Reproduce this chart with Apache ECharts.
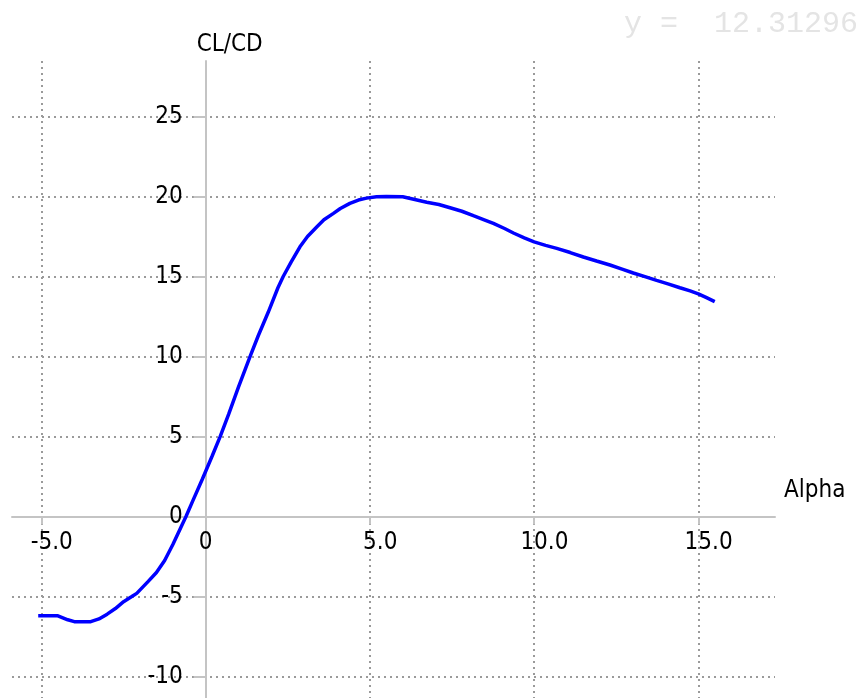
<!DOCTYPE html>
<html>
<head>
<meta charset="utf-8">
<title>CL/CD vs Alpha</title>
<script src="https://cdn.jsdelivr.net/npm/echarts@6/dist/echarts.min.js"></script>
<style>
  html, body { margin: 0; padding: 0; background: #ffffff; }
  #chart { width: 860px; height: 698px; }
</style>
</head>
<body>
<div id="chart"></div>
<script>
// Angle of attack (deg) and lift-to-drag ratio
const alpha = [
  -5.1, -4.5, -4.2, -4.0, -3.5, -3.25, -3.0, -2.75, -2.5, -2.25, -2.1,
  -1.75, -1.5, -1.25, -1.0, -0.75, -0.6, -0.4, -0.1, 0.2, 0.44, 0.7,
  1.0, 1.35, 1.6, 1.9, 2.2, 2.36, 2.6, 2.87, 3.1, 3.38, 3.6, 3.89,
  4.1, 4.39, 4.65, 4.9, 5.2, 5.5, 6.0, 6.3, 6.73, 7.1, 7.44, 7.8,
  8.15, 8.5, 8.76, 9.1, 9.37, 9.7, 10.0, 10.35, 10.69, 11.1, 11.5,
  11.9, 12.31, 12.7, 13.02, 13.4, 13.73, 14.1, 14.44, 14.75, 15.0,
  15.25, 15.5
];
const clcd = [
  -6.2, -6.2, -6.45, -6.57, -6.57, -6.4, -6.1, -5.75, -5.32, -5.0, -4.8,
  -4.05, -3.5, -2.75, -1.75, -0.65, 0.0, 0.95, 2.35, 3.8, 5.0, 6.4,
  8.1, 10.0, 11.3, 12.75, 14.3, 15.0, 15.9, 16.86, 17.5, 18.1, 18.55, 18.95,
  19.25, 19.57, 19.78, 19.9, 19.98, 20.0, 19.99, 19.85, 19.64, 19.5, 19.3, 19.08,
  18.8, 18.53, 18.32, 18.0, 17.72, 17.42, 17.17, 16.95, 16.76, 16.5, 16.22,
  15.97, 15.72, 15.45, 15.22, 14.98, 14.76, 14.53, 14.3, 14.1, 13.92,
  13.68, 13.43
];

// Tick positions for both axes
const xTicks = [-5, 0, 5, 10, 15];
const yTicks = [-10, -5, 0, 5, 10, 15, 20, 25];

// Cursor readout shown in the corner
const readoutText = 'y =  12.31296';

const uiFont = "'DejaVu Sans Condensed', 'DejaVu Sans', sans-serif";
const axisGrey = '#c4c4c4';

// Plot area and value ranges
const plot = { left: 12, right: 85, top: 61, bottom: 0, width: 860, height: 698 };
const xRange = [-5.898, 17.335];
const yRange = [-11.34, 28.47];

// Pull each axis in from the plot edge so it crosses the other at zero
const plotW = plot.width - plot.left - plot.right;
const plotH = plot.height - plot.top - plot.bottom;
const yAxisShift = plotW * (0 - xRange[0]) / (xRange[1] - xRange[0]);
const xAxisShift = plotH * (0 - yRange[0]) / (yRange[1] - yRange[0]);

const points = alpha.map((a, i) => [a, clcd[i]]);

const chart = echarts.init(document.getElementById('chart'), null, { renderer: 'canvas' });

const gridLine = { show: true, lineStyle: { color: '#9a9a9a', width: 2, type: [2, 4] } };

chart.setOption({
  animation: false,
  backgroundColor: '#ffffff',
  grid: {
    left: plot.left, right: plot.right, top: plot.top, bottom: plot.bottom,
    containLabel: false,
    outerBoundsMode: 'none'
  },
  graphic: [{
    type: 'text',
    left: 624,
    top: 9,
    style: {
      text: readoutText,
      font: "30px 'Liberation Mono', 'DejaVu Sans Mono', monospace",
      fill: '#e4e4e4'
    }
  }],
  xAxis: {
    type: 'value',
    min: xRange[0],
    max: xRange[1],
    position: 'bottom',
    offset: -xAxisShift,
    name: 'Alpha',
    nameLocation: 'end',
    nameGap: 9,
    nameTextStyle: {
      color: '#000',
      fontSize: 24,
      fontFamily: uiFont,
      verticalAlign: 'bottom',
      padding: [0, 0, 14, 0]
    },
    axisLine: { onZero: false, lineStyle: { color: axisGrey, width: 2 } },
    axisTick: { show: true, length: 8, customValues: xTicks, lineStyle: { color: axisGrey, width: 2 } },
    axisLabel: {
      customValues: xTicks,
      margin: 14,
      color: '#000',
      fontSize: 24,
      fontFamily: uiFont,
      // whole-number part sits centred on its tick
      formatter: function (v) {
        if (v === 0) return '0';
        return '{h|.0}' + v.toFixed(1);
      },
      rich: {
        h: { color: 'rgba(0,0,0,0)', fontSize: 24, fontFamily: uiFont }
      }
    },
    splitLine: gridLine
  },
  yAxis: {
    type: 'value',
    min: yRange[0],
    max: yRange[1],
    position: 'left',
    offset: -yAxisShift,
    name: 'CL/CD',
    nameLocation: 'end',
    nameGap: 4,
    nameTextStyle: {
      color: '#000',
      fontSize: 24,
      fontFamily: uiFont,
      padding: [0, 0, 0, 48]
    },
    axisLine: { onZero: false, lineStyle: { color: axisGrey, width: 2 } },
    axisTick: { show: true, length: 12, customValues: yTicks, lineStyle: { color: axisGrey, width: 2 } },
    axisLabel: {
      customValues: yTicks,
      margin: 23,
      color: '#000',
      fontSize: 24,
      fontFamily: uiFont
    },
    splitLine: gridLine
  },
  series: [{
    type: 'line',
    data: points,
    showSymbol: false,
    smooth: false,
    lineStyle: { color: '#0000ff', width: 3.5 },
    itemStyle: { color: '#0000ff' }
  }]
});
</script>
</body>
</html>
